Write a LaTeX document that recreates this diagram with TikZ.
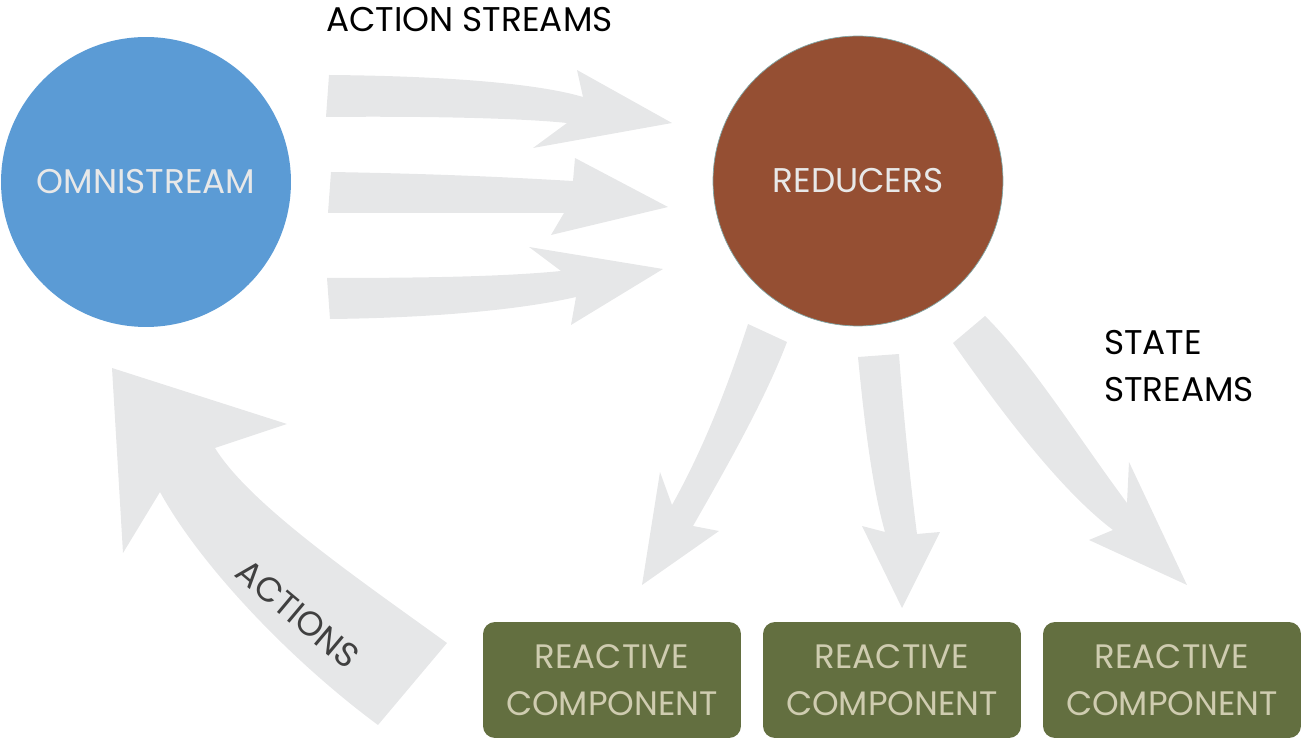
\documentclass[tikz,border=0pt]{standalone}
\usepackage{fontspec}
\setmainfont{Poppins}
\definecolor{streamgray}{HTML}{E6E7E8}
\definecolor{omniblue}{HTML}{5B9BD5}
\definecolor{reducerbrown}{HTML}{954F33}
\definecolor{compgreen}{HTML}{636F40}
\definecolor{comptext}{HTML}{CFCCB0}
\definecolor{circtext}{HTML}{E8E8E8}
\definecolor{actiontext}{HTML}{404040}

\begin{document}
\begin{tikzpicture}[x=0.02cm,y=-0.02cm,
  bigcircle/.style={circle,minimum size=5.8cm,inner sep=0pt,text=circtext,font=\fontsize{19.5}{23}\selectfont},
  compbox/.style={rectangle,rounded corners=0.24cm,fill=compgreen,minimum width=5.16cm,minimum height=2.32cm,align=center,text=comptext,font=\fontsize{19.3}{26.7}\selectfont},
  heading/.style={font=\fontsize{19.5}{27}\selectfont,align=left},
  blockarrow/.style={fill=streamgray}]
  \useasboundingbox (0,0) rectangle (1303,739);

  % action streams
  \fill[blockarrow] (329,75) .. controls (450,76) and (540,84) .. (583,97) -- (577,70) -- (672,123)
    -- (533,148) -- (567,123) .. controls (520,118) and (420,116) .. (326,117) -- cycle;
  \fill[blockarrow] (331,172) .. controls (450,174) and (520,178) .. (573,181) -- (575,158) -- (668,207)
    -- (551,235) -- (564,213) .. controls (500,213) and (420,213) .. (328,213) -- cycle;
  \fill[blockarrow] (327,278) .. controls (440,278) and (510,276) .. (561,271) -- (529,247) -- (663,269)
    -- (571,325) -- (576,297) .. controls (520,310) and (430,318) .. (330,319) -- cycle;

  % state streams
  \fill[blockarrow] (748,324) .. controls (725,395) and (700,455) .. (672,505) -- (660,472) -- (642,585)
    -- (719,531) -- (693,526) .. controls (725,470) and (765,400) .. (787,342) -- cycle;
  \fill[blockarrow] (858,357) .. controls (865,430) and (873,490) .. (885,532) -- (862,526) -- (902,608)
    -- (940,532) -- (917,534) .. controls (910,480) and (903,410) .. (899,354) -- cycle;
  \fill[blockarrow] (953,343) .. controls (1000,410) and (1060,490) .. (1113,530) -- (1089,540) -- (1187,585)
    -- (1129,462) -- (1127,503) .. controls (1080,440) and (1030,360) .. (985,316) -- cycle;

  % actions
  \fill[blockarrow] (447,643) .. controls (360,580) and (250,505) .. (215,448) -- (287,424) -- (112,368)
    -- (123,553) -- (160,492) .. controls (200,565) and (290,660) .. (378,725) -- cycle;

  \node[bigcircle,fill=omniblue] (omni) at (146,182) {OMNISTREAM};
  \node[bigcircle,fill=reducerbrown,draw=black!40!teal!50,line width=0.4pt] (reducers) at (858,181) {REDUCERS};

  \node[compbox] (comp1) at (612,680) {REACTIVE\\COMPONENT};
  \node[compbox] (comp2) at (892,680) {REACTIVE\\COMPONENT};
  \node[compbox] (comp3) at (1172,680) {REACTIVE\\COMPONENT};

  \node[heading,anchor=base west] (actionstreams) at (320,32) {ACTION STREAMS};
  \node[heading,anchor=west] (statestreams) at (1098,366) {STATE\\STREAMS};
  \node[heading,text=actiontext,rotate=-40] (actions) at (298,614) {ACTIONS};
\end{tikzpicture}
\end{document}
